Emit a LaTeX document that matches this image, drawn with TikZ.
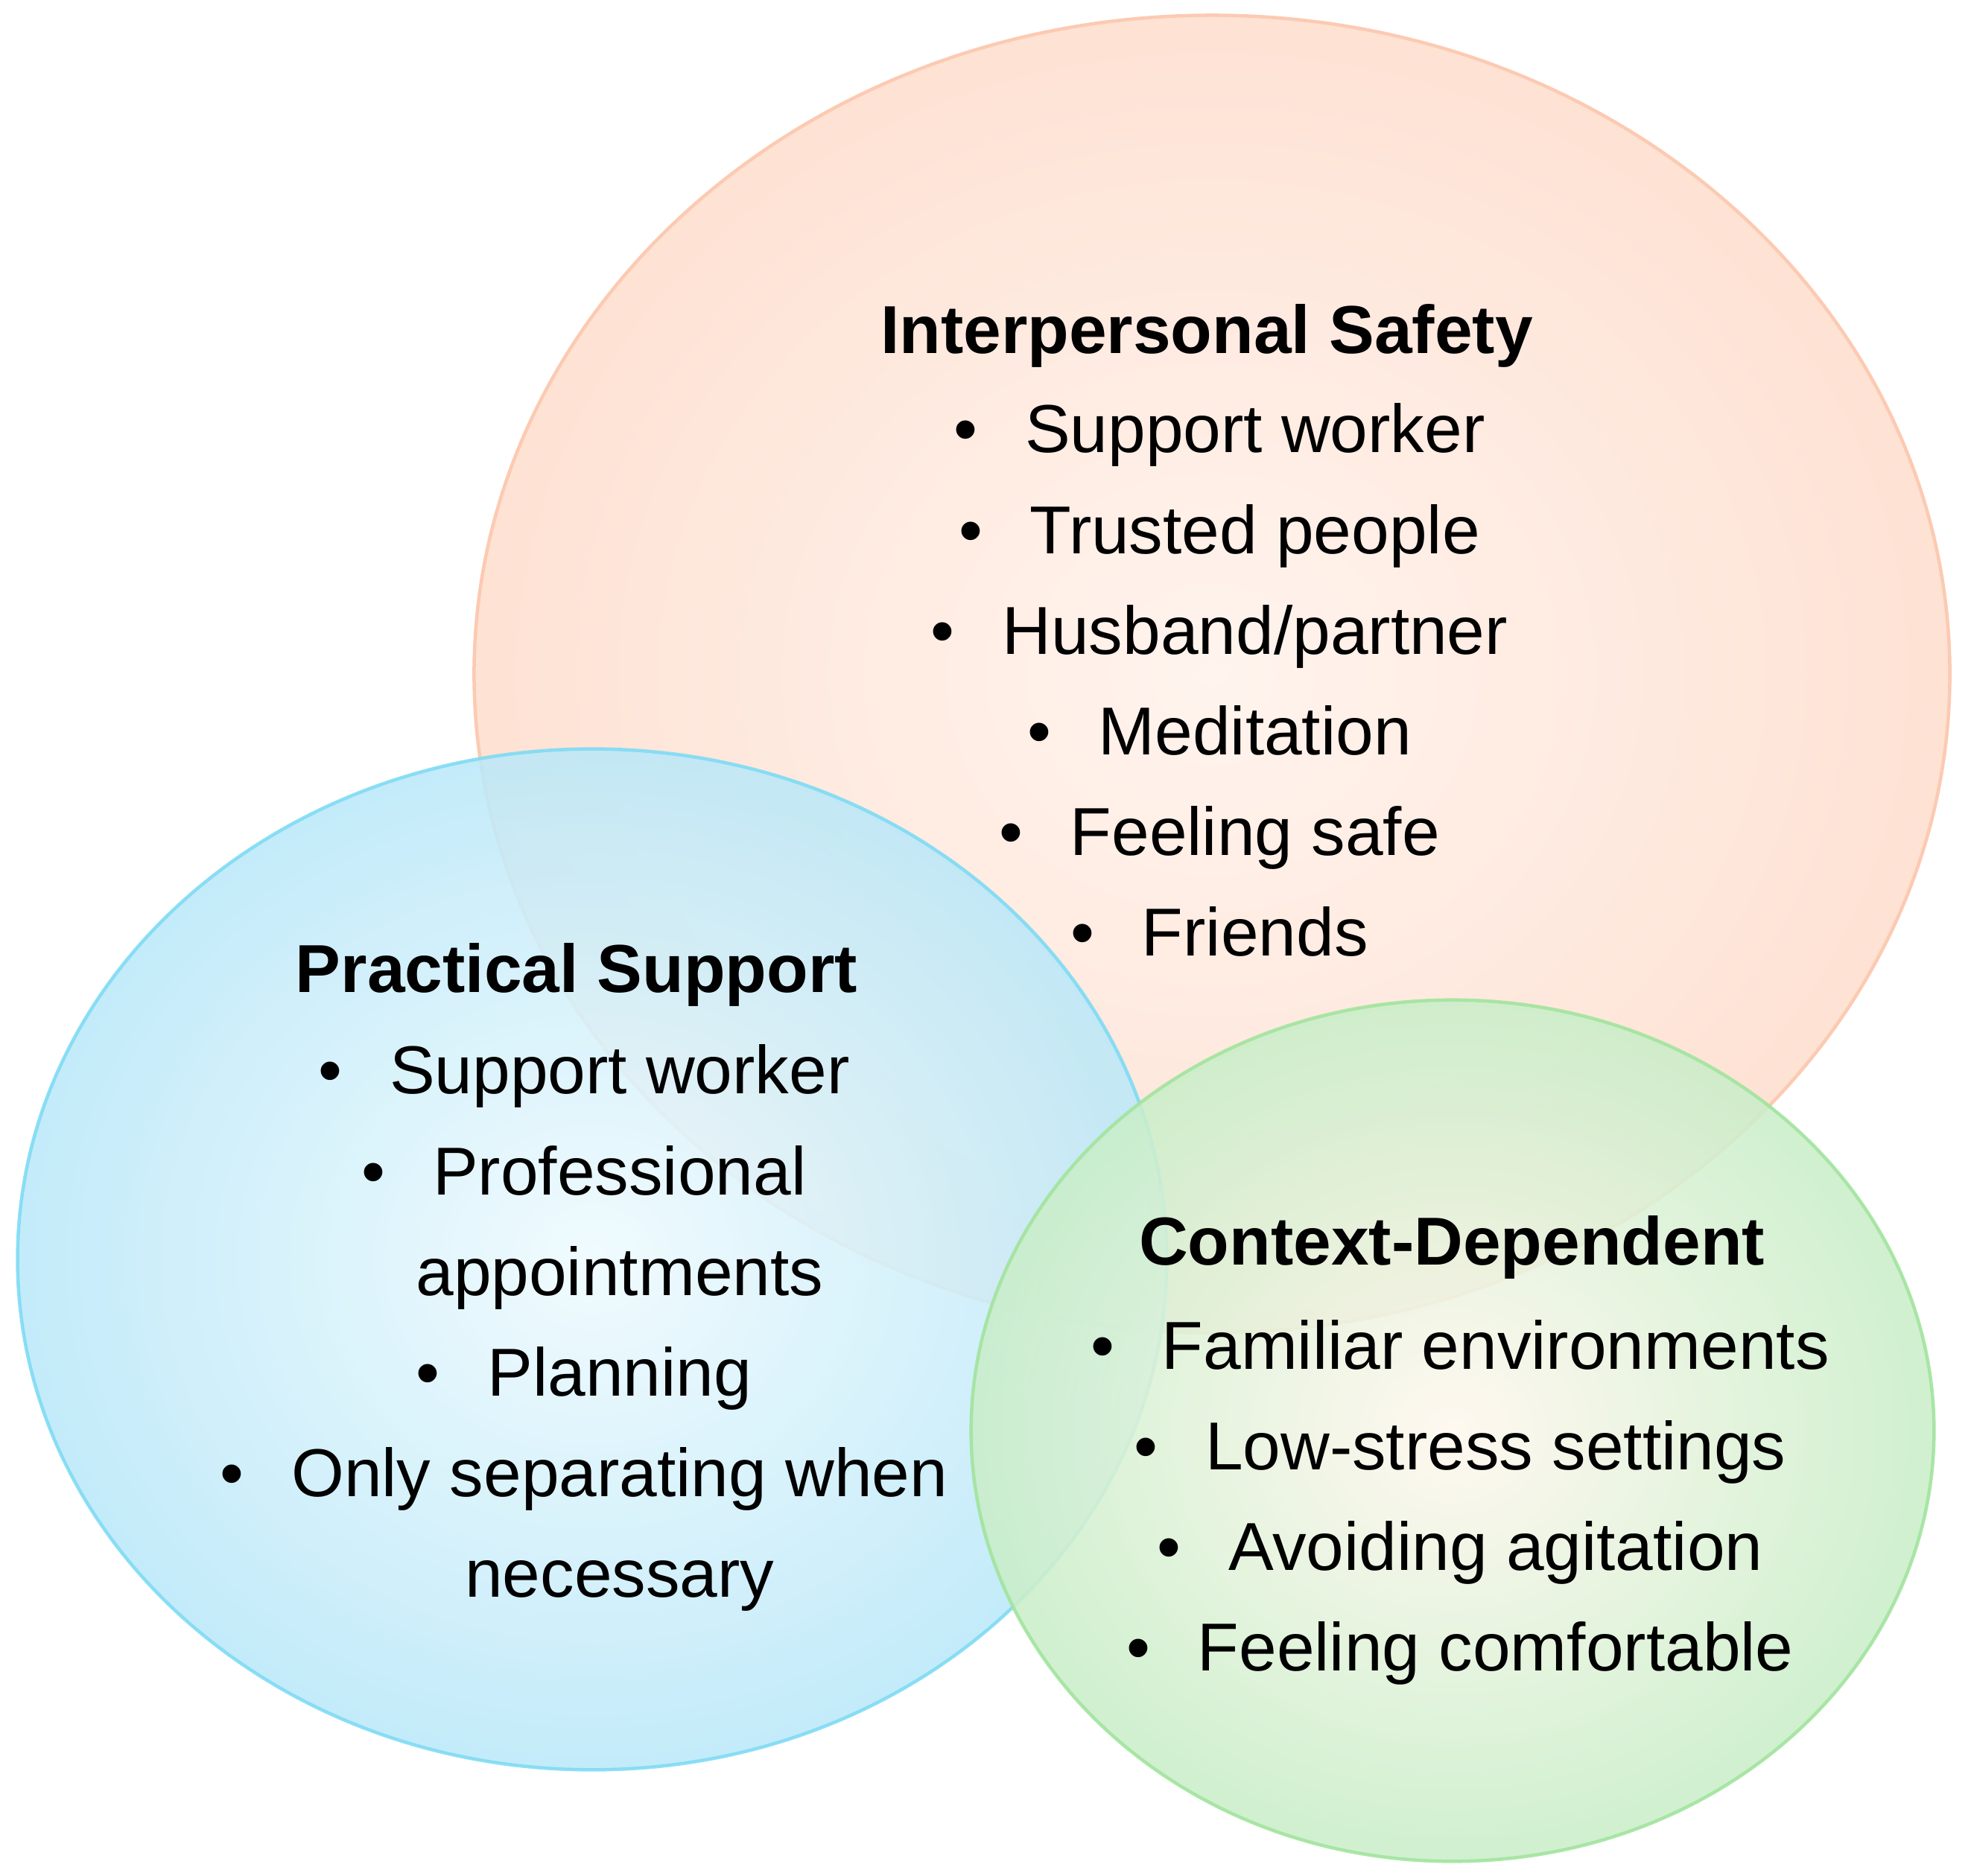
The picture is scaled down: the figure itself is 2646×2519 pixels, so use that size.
\documentclass[tikz,border=0pt]{standalone}
\usepackage{fontspec}
\setmainfont{Liberation Sans}
\usetikzlibrary{calc}
\definecolor{safetyin}{HTML}{FFF4EE}
\definecolor{safetyout}{HTML}{FEE2D4}
\definecolor{safetyline}{HTML}{FCCAB2}
\definecolor{practin}{HTML}{EEFAFE}
\definecolor{practout}{HTML}{BBE8F8}
\definecolor{practline}{HTML}{7FDBF4}
\definecolor{contextin}{HTML}{FFF7EE}
\definecolor{contextout}{HTML}{C9EEC9}
\definecolor{contextline}{HTML}{A2E49E}
\newcommand{\itm}[1]{\textbullet\hspace{0.7em}#1}
\newcommand{\cnt}[1]{\phantom{\textbullet\hspace{0.7em}}#1}
\tikzset{
  bubble/.style={line width=0.45mm},
  headtext/.style={inner sep=0pt, font=\fontsize{25.9}{38.4}\selectfont\bfseries},
  itemtext/.style={inner sep=0pt, align=center, font=\fontsize{25.9}{38.4}\selectfont}
}

\begin{document}
\begin{tikzpicture}[x=0.01cm, y=-0.01cm]
			%%%%% START %%%%%
			\useasboundingbox (0, 0) rectangle (2646, 2519);
			
			\shade[bubble, draw=safetyline, inner color=safetyin, outer color=safetyout] (1627, 905) ellipse [x radius=9.90cm, y radius=8.84cm];
			
			\shade[bubble, draw=practline, inner color=practin, outer color=practout, fill opacity=0.88, draw opacity=0.9] (795, 1691) ellipse [x radius=7.71cm, y radius=6.85cm];
			
			\shade[bubble, draw=contextline, inner color=contextin, outer color=contextout, fill opacity=0.88, draw opacity=0.9] (1950, 1921) ellipse [x radius=6.46cm, y radius=5.78cm];
			
			\node[headtext] (safetyhead) at (1620, 451) {Interpersonal Safety};
			\node[itemtext] (safetylist) at (1637, 913) {\itm{Support worker}\\ \itm{Trusted people}\\ \itm{Husband/partner}\\ \itm{Meditation}\\ \itm{Feeling safe}\\ \itm{Friends}};
			
			\node[headtext] (practhead) at (774, 1309) {Practical Support};
			\node[itemtext] (practlist) at (784, 1783) {\itm{Support worker}\\ \itm{Professional}\\ \cnt{appointments}\\ \itm{Planning}\\ \itm{Only separating when}\\ \cnt{necessary}};
			
			\node[headtext] (contexthead) at (1949, 1675) {Context-Dependent};
			\node[itemtext] (contextlist) at (1960, 2017) {\itm{Familiar environments}\\ \itm{Low-stress settings}\\ \itm{Avoiding agitation}\\ \itm{Feeling comfortable}};
			
			%%%%% END %%%%%
\end{tikzpicture}
\end{document}
